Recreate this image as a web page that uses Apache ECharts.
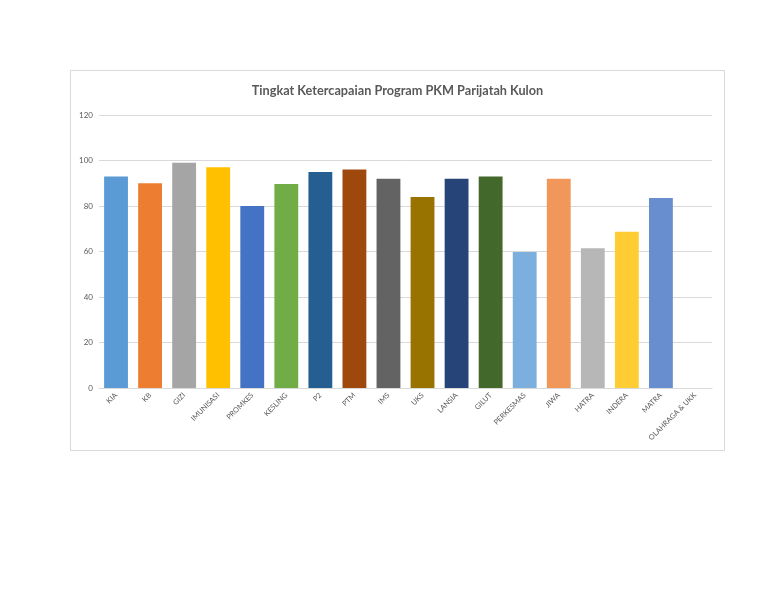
<!DOCTYPE html>
<html>
<head>
<meta charset="utf-8">
<script src="https://cdn.jsdelivr.net/npm/echarts@6/dist/echarts.min.js"></script>
<style>
  html, body { margin: 0; padding: 0; background: #fff; }
  body { width: 768px; height: 594px; position: relative; }
  #chart {
    position: absolute; left: 70px; top: 70px;
    width: 653px; height: 379px;
    border: 1px solid #d9d9d9;
  }
</style>
</head>
<body>
<div id="chart"></div>
<script>
const titleText = 'Tingkat Ketercapaian Program PKM Parijatah Kulon';
const categories = ['KIA', 'KB', 'GIZI', 'IMUNISASI', 'PROMKES', 'KESLING', 'P2', 'PTM', 'IMS',
  'UKS', 'LANSIA', 'GILUT', 'PERKESMAS', 'JIWA', 'HATRA', 'INDERA', 'MATRA', 'OLAHRAGA & UKK'];
const values = [93, 90, 99, 97, 80, 89.7, 95, 96, 92, 84, 92, 93, 59.8, 92, 61.4, 68.7, 83.5, 0];

// excel office palette, one per bar
const barColors = ['#5B9BD5', '#ED7D31', '#A5A5A5', '#FFC000', '#4472C4', '#70AD47', '#255E91',
  '#9E480E', '#636363', '#997300', '#264478', '#43682B', '#7CAFDD', '#F1975A', '#B7B7B7',
  '#FFCD33', '#698ED0', '#8CC168'];

const myChart = echarts.init(document.getElementById('chart'));
const option = {
  animation: false,
  textStyle: { fontFamily: 'Lato, "Open Sans", sans-serif' },
  title: {
    text: titleText,
    left: 'center',
    top: 8,
    textStyle: { fontSize: 12.7, fontWeight: 'bold', color: '#595959', fontFamily: 'Lato, sans-serif' }
  },
  grid: { left: 28, right: 12, top: 44, bottom: 62, containLabel: false },
  xAxis: {
    type: 'category',
    data: categories,
    axisTick: { show: false },
    axisLine: { lineStyle: { color: '#d9d9d9' } },
    axisLabel: { rotate: 45, fontSize: 7.3, color: '#595959', margin: 6, interval: 0 }
  },
  yAxis: {
    type: 'value',
    min: 0, max: 120, interval: 20,
    axisLine: { show: false },
    axisTick: { show: false },
    axisLabel: { fontSize: 8, color: '#595959', margin: 6 },
    splitLine: { lineStyle: { color: '#d9d9d9' } }
  },
  series: [{
    type: 'bar',
    barCategoryGap: '30%',
    data: values.map((v, i) => ({ value: v, itemStyle: { color: barColors[i] } }))
  }]
};
myChart.setOption(option);
</script>
</body>
</html>
